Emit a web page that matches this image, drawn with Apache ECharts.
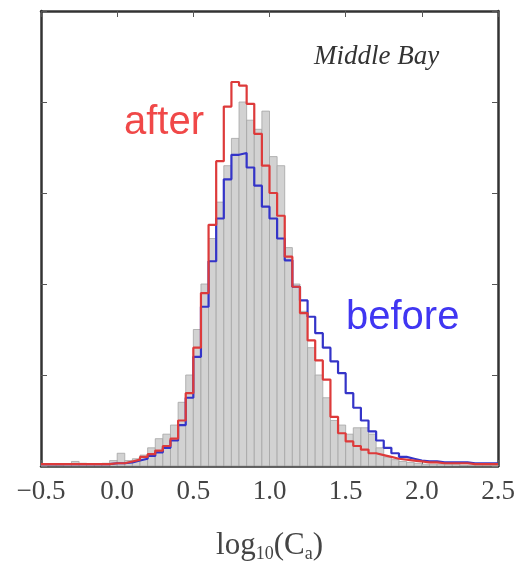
<!DOCTYPE html>
<html>
<head>
<meta charset="utf-8">
<script src="https://cdn.jsdelivr.net/npm/echarts@6/dist/echarts.min.js"></script>
<style>
html,body{margin:0;padding:0;background:#fff;}
#chart{width:523px;height:565px;}
</style>
</head>
<body>
<div id="chart"></div>
<script>
// Histogram bins: start at -0.5, width 0.05 (60 bins up to 2.5)
var binStart = -0.5;
var binWidth = 0.05;
var xTicks = ["−0.5", "0.0", "0.5", "1.0", "1.5", "2.0", "2.5"];

// gray histogram heights
var grayValues = [
  0.01,0.01,0.01,0.02,0.05,0.03,0.02,0.02,0.03,0.06,
  0.14,0.06,0.08,0.12,0.20,0.30,0.35,0.45,0.70,1.00,
  1.50,2.00,2.50,2.90,3.30,3.60,4.00,3.80,3.70,3.90,
  3.40,3.30,2.40,2.00,1.70,1.30,1.00,0.75,0.50,0.45,
  0.35,0.42,0.42,0.35,0.20,0.10,0.07,0.05,0.04,0.03,
  0.02,0.02,0.02,0.02,0.02,0.01,0.01,0.01,0.01,0.01
];
// "after" step line (red)
var afterValues = [
  0.02,0.02,0.02,0.02,0.02,0.02,0.02,0.02,0.02,0.03,
  0.03,0.05,0.07,0.10,0.13,0.17,0.22,0.30,0.50,0.80,
  1.30,1.90,2.65,3.35,3.95,4.22,4.18,3.98,3.65,3.30,
  3.00,2.75,2.30,1.97,1.68,1.38,1.16,0.95,0.54,0.36,
  0.27,0.22,0.18,0.14,0.12,0.10,0.08,0.07,0.06,0.05,
  0.04,0.04,0.03,0.03,0.03,0.03,0.02,0.02,0.02,0.02
];
// "before" step line (blue)
var beforeValues = [
  0.02,0.02,0.02,0.02,0.02,0.02,0.02,0.02,0.02,0.03,
  0.03,0.04,0.06,0.08,0.11,0.15,0.20,0.28,0.45,0.75,
  1.20,1.75,2.25,2.72,3.15,3.42,3.44,3.28,3.08,2.85,
  2.72,2.50,2.26,1.97,1.82,1.64,1.46,1.30,1.15,1.02,
  0.80,0.64,0.50,0.38,0.28,0.20,0.14,0.10,0.08,0.06,
  0.05,0.05,0.04,0.04,0.04,0.04,0.03,0.03,0.03,0.03
];

function edge(i){ return +(binStart + i*binWidth).toFixed(4); }
function stepData(vals){
  var d = vals.map(function(v,i){ return [edge(i), v]; });
  d.push([edge(vals.length), vals[vals.length-1]]);
  return d;
}
var grayData = grayValues.map(function(v,i){ return [edge(i), edge(i+1), v]; });

var chart = echarts.init(document.getElementById('chart'), null, {renderer:'canvas'});
var serif = '"Liberation Serif", "DejaVu Serif", serif';
var frameColor = '#333';
function tickFmt(v){
  var idx = Math.round((v + 0.5) / 0.5);
  return xTicks[idx] !== undefined ? xTicks[idx] : '';
}
var option = {
  backgroundColor: '#fff',
  animation: false,
  grid: {left: 41, right: 25, top: 11, bottom: 99, containLabel: false, outerBoundsMode: 'none'},
  xAxis: [
    {
      type: 'value', min: -0.5, max: 2.5, interval: 0.5, position: 'bottom',
      axisLine: {show: true, onZero: false, lineStyle: {color: frameColor, width: 2.5}},
      axisTick: {show: true, inside: true, length: 6, lineStyle: {color: '#555', width: 1}},
      axisLabel: {formatter: tickFmt, fontFamily: serif, fontSize: 27, color: '#444', margin: 12},
      splitLine: {show: false},
      name: '{n|log}{s|10}{n|(C}{s|a}{n|)}',
      nameLocation: 'middle', nameGap: 63,
      nameTextStyle: {
        rich: {
          n: {fontFamily: serif, fontSize: 31, color: '#444'},
          s: {fontFamily: serif, fontSize: 18, color: '#444', verticalAlign: 'bottom', padding: [16,0,0,0]}
        }
      }
    },
    {
      type: 'value', min: -0.5, max: 2.5, interval: 0.5, position: 'top',
      axisLine: {show: true, onZero: false, lineStyle: {color: frameColor, width: 2.5}},
      axisTick: {show: true, inside: true, length: 6, lineStyle: {color: '#555', width: 1}},
      axisLabel: {show: false}, splitLine: {show: false}
    }
  ],
  yAxis: [
    {
      type: 'value', min: 0, max: 5, interval: 1, position: 'left',
      axisLine: {show: true, onZero: false, lineStyle: {color: frameColor, width: 2.5}},
      axisTick: {show: true, inside: true, length: 6, lineStyle: {color: '#555', width: 1}},
      axisLabel: {show: false}, splitLine: {show: false}
    },
    {
      type: 'value', min: 0, max: 5, interval: 1, position: 'right',
      axisLine: {show: true, onZero: false, lineStyle: {color: frameColor, width: 2.5}},
      axisTick: {show: true, inside: true, length: 6, lineStyle: {color: '#555', width: 1}},
      axisLabel: {show: false}, splitLine: {show: false}
    }
  ],
  series: [
    {
      type: 'custom', name: 'hist', xAxisIndex: 0, yAxisIndex: 0,
      data: grayData,
      renderItem: function(params, api){
        var p0 = api.coord([api.value(0), 0]);
        var p1 = api.coord([api.value(1), api.value(2)]);
        return {
          type: 'rect',
          shape: {x: p0[0], y: p1[1], width: p1[0]-p0[0], height: p0[1]-p1[1]},
          style: {fill: '#d2d2d2', stroke: '#a4a4a4', lineWidth: 0.8}
        };
      },
      z: 1
    },
    {
      type: 'line', name: 'before', step: 'end', data: stepData(beforeValues),
      showSymbol: false, symbol: 'none',
      lineStyle: {color: '#3434c8', width: 2.2}, z: 3
    },
    {
      type: 'line', name: 'after', step: 'end', data: stepData(afterValues),
      showSymbol: false, symbol: 'none',
      lineStyle: {color: '#dd3a3a', width: 2.2}, z: 4
    }
  ],
  graphic: [
    {type: 'text', left: 314, top: 43, style: {text: 'Middle Bay', font: 'italic 27px "Liberation Serif", serif', fill: '#333'}},
    {type: 'text', left: 124, top: 103, style: {text: 'after', font: '40px "Liberation Sans", Arial, sans-serif', fill: '#f04848'}},
    {type: 'text', left: 346, top: 298, style: {text: 'before', font: '40px "Liberation Sans", Arial, sans-serif', fill: '#4036f2'}}
  ]
};
chart.setOption(option);
</script>
</body>
</html>
